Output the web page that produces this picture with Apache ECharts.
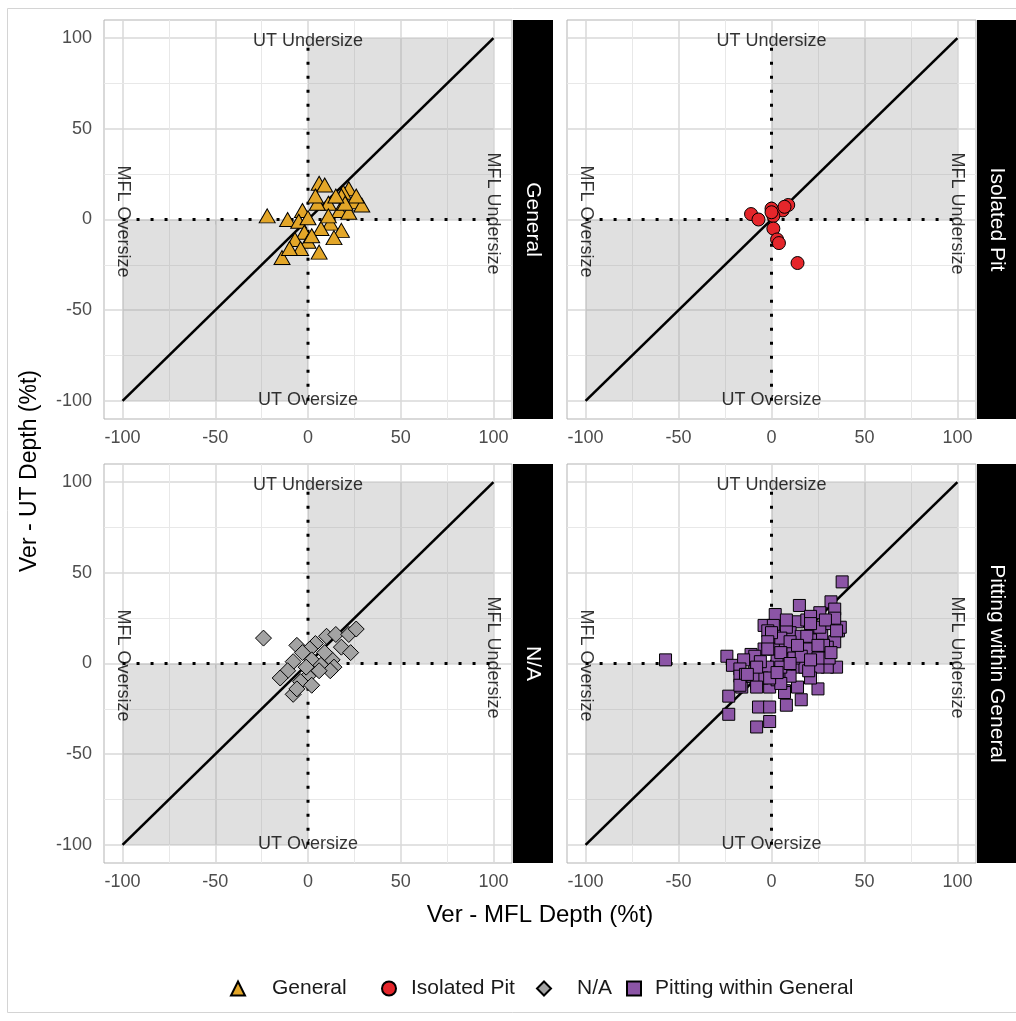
<!DOCTYPE html>
<html><head><meta charset="utf-8">
<script src="https://cdn.jsdelivr.net/npm/echarts@6/dist/echarts.min.js"></script>
<style>html,body{margin:0;padding:0;background:#fff}#c{width:1016px;height:1021px}</style>
</head><body><div id="c"></div>
<script>
// ---------- data ----------
const panelNames = ['General', 'Isolated Pit', 'N/A', 'Pitting within General'];
const xTitle = 'Ver - MFL Depth (%t)';
const yTitle = 'Ver - UT Depth (%t)';
const tickValues = [-100, -50, 0, 50, 100];
const minorValues = [-75, -25, 25, 75];
const axisMin = -110, axisMax = 110;
const refLine = [-100, 100];
const quadrantLabels = ['UT Undersize', 'UT Oversize', 'MFL Oversize', 'MFL Undersize'];

const generalX = [-22, -11, -14, 6, 6, 9, 22, 19, 25, 29, 18, 17, 11, 5, -3, -5, 0, 12, 7, 18, -2, -7, 0, -4, -10, 11, 22, 26, 14, 2, 4, 20, 15];
const generalY = [2, 0, -21, -18, 20, 19, 17, 15, 10, 8, 13, 5, 9, 9, 5, -1, 1, -2, -5, -6, -7, -11, -12, -16, -16, 2, 4, 13, -10, -9, 13, 9, 13];

const isolatedX = [-11, -7, 0, 6, 9, 7, 1, 1, 3, 4, 14, 0];
const isolatedY = [3, 0, 6, 5, 8, 7, 2, -5, -11, -13, -24, 4];

const naX = [-24, -6, 4, 10, 15, 22, 26, 18, 23, 1, -3, -8, 2, 7, 13, 14, 12, 6, 0, -11, -15, -4, 2, -8, -6, -1, 9];
const naY = [14, 10, 11, 15, 16, 16, 19, 9, 6, 8, 6, 1, 2, -1, 2, -2, -4, -4, -7, -4, -8, -10, -12, -17, -14, -2, 6];

const pittingX = [-57, 38, 15, 32, 34, 2, -24, -21, -23, -23, -7, -1, -8, -1, 8, 16, 25, -16, -13, -11, -4, -4, 1, 3, 8, 14, 19, 26, 22, 27, 32, 36, 37, 34, 30, 35, 30, 25, 21, 14, 8, 3, -2, -9, -13, -8, -1, 7, 14, 21, 10, 4, 10, 16, 26, 21, 17, 10, 5, -1, -2, 8, 26, 31, 19, -9, -15, -17, -6, 5, 18, 20, 34, 29, 21, 8, 1, 5, 12, 3, -5, -10, -17,
  21, 35, 0, 19, 10, 28, 32, 5, 16, 25, -2, -14, 7, 5, -1, -8, 10, 21, 25, 14, -2, 3, -17, -8, -13];
const pittingY = [2, 45, 32, 34, 30, 27, 4, -1, -18, -28, -24, -24, -35, -32, -23, -20, -14, -13, -6, 5, 8, 21, 21, 15, 11, 23, 24, 28, 20, 16, 22, 18, 20, 12, 9, -2, -2, -2, 3, -2, 4, 2, -2, -3, -7, -11, -13, -15, -13, -8, -7, -7, 17, 15, 20, 13, 9, 9, 8, 11, 18, 20, 6, 3, 8, 4, 2, -3, 1, -2, -2, -4, 25, 24, 26, 24, 8, 14, 3, -9, -8, -7, -7,
  22, 18, 17, 15, 12, 10, 6, 6, 4, 3, 12, -6, -16, -11, -8, -2, 0, 2, 10, 10, 8, -5, -12, -13, -6];

const seriesX = [generalX, isolatedX, naX, pittingX];
const seriesY = [generalY, isolatedY, naY, pittingY];

// ---------- styles ----------
const colors = ['#E3A628', '#E5262B', '#A3A3A3', '#8C55A6'];
const symbols = ['triangle', 'circle', 'diamond', 'rect'];
const symbolSizes = [[16, 14], 13, [16, 16], 12];
const FONT = 'Liberation Sans, Arial, sans-serif';

const gridRects = [
  {left: 104, top: 20, width: 408, height: 399},
  {left: 567, top: 20, width: 409, height: 399},
  {left: 104, top: 464, width: 408, height: 399},
  {left: 567, top: 464, width: 409, height: 399}
];
const showYAxis = [true, false, true, false];

const zip = (xs, ys) => xs.map((x, i) => [x, ys[i]]);

const grids = gridRects.map(r => Object.assign({show: true, backgroundColor: '#fff', borderColor: '#b3b3b3', borderWidth: 1, containLabel: false}, r));

const axisCommon = {
  type: 'value', min: axisMin, max: axisMax,
  axisLine: {show: false},
  splitLine: {show: false},
  axisTick: {show: true, customValues: tickValues, length: 5, lineStyle: {color: '#b3b3b3', width: 1}},
  axisLabel: {customValues: tickValues, color: '#4d4d4d', fontSize: 18, fontFamily: FONT}
};

const xAxes = gridRects.map((r, i) => Object.assign({}, axisCommon, {gridIndex: i, axisLabel: Object.assign({}, axisCommon.axisLabel, {margin: 10})}));
const yAxes = gridRects.map((r, i) => Object.assign({}, axisCommon, {gridIndex: i,
  axisTick: Object.assign({}, axisCommon.axisTick, {show: showYAxis[i]}),
  axisLabel: Object.assign({}, axisCommon.axisLabel, {margin: 12, show: showYAxis[i]})}));

const series = [];
gridRects.forEach((r, i) => {
  const gridLineData = [];
  tickValues.forEach(v => {
    gridLineData.push({xAxis: v, lineStyle: {color: '#d8d8d8', width: 1.5, type: 'solid'}});
    gridLineData.push({yAxis: v, lineStyle: {color: '#d8d8d8', width: 1.5, type: 'solid'}});
  });
  minorValues.forEach(v => {
    gridLineData.push({xAxis: v, lineStyle: {color: '#e8e8e8', width: 1, type: 'solid'}});
    gridLineData.push({yAxis: v, lineStyle: {color: '#e8e8e8', width: 1, type: 'solid'}});
  });
  series.push({
    type: 'line', name: 'ref' + i, xAxisIndex: i, yAxisIndex: i, z: 3,
    data: [[refLine[0], refLine[0]], [refLine[1], refLine[1]]],
    symbol: 'none', silent: true, animation: false,
    lineStyle: {color: '#000', width: 2.6},
    markLine: {z: 1, silent: true, animation: false, symbol: ['none', 'none'], label: {show: false}, data: gridLineData},
    markArea: {z: 2, silent: true, animation: false, itemStyle: {color: 'rgba(140,140,140,0.27)'},
      data: [
        [{xAxis: refLine[0], yAxis: refLine[0]}, {xAxis: 0, yAxis: 0}],
        [{xAxis: 0, yAxis: 0}, {xAxis: refLine[1], yAxis: refLine[1]}]
      ]}
  });
  series.push({
    type: 'line', name: 'vdot' + i, xAxisIndex: i, yAxisIndex: i, z: 3,
    data: [[0, refLine[0]], [0, refLine[1]]], symbol: 'none', silent: true, animation: false,
    lineStyle: {color: '#000', width: 3, type: [3, 11]}
  });
  series.push({
    type: 'line', name: 'hdot' + i, xAxisIndex: i, yAxisIndex: i, z: 3,
    data: [[refLine[0], 0], [refLine[1], 0]], symbol: 'none', silent: true, animation: false,
    lineStyle: {color: '#000', width: 3, type: [3, 11]}
  });
  series.push({
    type: 'scatter', name: panelNames[i], xAxisIndex: i, yAxisIndex: i, z: 4,
    data: zip(seriesX[i], seriesY[i]),
    symbol: symbols[i], symbolSize: symbolSizes[i], animation: false,
    itemStyle: {color: colors[i], borderColor: '#000', borderWidth: 1, opacity: 1}
  });
  const lab = {color: '#000', fontSize: 18, fontFamily: FONT, position: 'inside'};
  series.push({
    type: 'scatter', name: 'labels' + i, xAxisIndex: i, yAxisIndex: i, z: 5,
    symbolSize: 1, silent: true, animation: false, itemStyle: {color: 'transparent'},
    data: [
      {value: [0, refLine[1]], label: Object.assign({show: true, formatter: quadrantLabels[0], offset: [0, 3]}, lab)},
      {value: [0, refLine[0]], label: Object.assign({show: true, formatter: quadrantLabels[1], offset: [0, -1]}, lab)},
      {value: [refLine[0], 0], label: Object.assign({show: true, formatter: quadrantLabels[2], rotate: -90, offset: [2, 0]}, lab)},
      {value: [refLine[1], 0], label: Object.assign({show: true, formatter: quadrantLabels[3], rotate: -90, offset: [-6, 0]}, lab)}
    ]
  });
});

const graphics = [
  {type: 'rect', z: -10, shape: {x: 7.5, y: 8.5, width: 1020, height: 1004}, style: {fill: 'none', stroke: '#d4d4d4', lineWidth: 1}}
];
gridRects.forEach((r, i) => {
  const sx = r.left + r.width + 1;
  graphics.push({type: 'rect', z: 10, shape: {x: sx, y: r.top, width: 40, height: r.height}, style: {fill: '#000'}});
  graphics.push({type: 'text', z: 11, x: sx + 20, y: r.top + r.height / 2, rotation: -Math.PI / 2,
    style: {text: panelNames[i], fill: '#fff', font: '21px ' + FONT, align: 'center', verticalAlign: 'middle'}});
});
graphics.push({type: 'text', z: 11, x: 540, y: 915, style: {text: xTitle, fill: '#000', font: '24px ' + FONT, align: 'center', verticalAlign: 'middle'}});
graphics.push({type: 'text', z: 11, x: 30, y: 471, rotation: Math.PI / 2, style: {text: yTitle, fill: '#000', font: '23px ' + FONT, align: 'center', verticalAlign: 'middle'}});

const legendPos = [[237, 271], [388, 410], [543, 576], [633, 654]];
const legends = panelNames.map((n, i) => ({
  data: [n], left: legendPos[i][0] - 7, top: 978, padding: 0, itemWidth: 14, itemHeight: 14, selectedMode: false,
  textStyle: {color: '#1a1a1a', fontSize: 21, fontFamily: FONT, padding: [0, 0, 0, legendPos[i][1] - (legendPos[i][0] - 7 + 19)]}
}));

const chart = echarts.init(document.getElementById('c'), null, {renderer: 'canvas'});
chart.setOption({
  animation: false,
  backgroundColor: '#fff',
  grid: grids, xAxis: xAxes, yAxis: yAxes,
  legend: legends,
  series: series,
  graphic: graphics
});
</script></body></html>
